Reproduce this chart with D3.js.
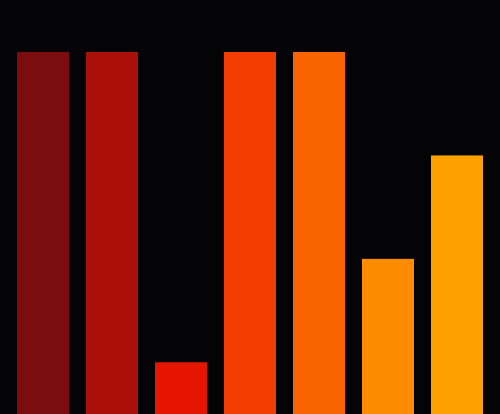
<!DOCTYPE html>
<html><head><meta charset="utf-8">
<script src="https://cdn.jsdelivr.net/npm/d3@7"></script>
<style>html,body{margin:0;padding:0;background:#040406;}svg{display:block;}</style>
</head><body>
<script>
const categories = ["A","B","C","D","E","F","G"];
const values = [7,7,1,7,7,3,5];
const colors = ["#7b0d10","#aa0f08","#e51500","#f23c00","#fa6400","#ff8b00","#ffa200"];

const W = 500, H = 414;
const svg = d3.select("body").append("svg").attr("width",W).attr("height",H)
  .style("background","#040406");
const x = d3.scaleBand().domain(categories).range([0,W]).paddingInner(0.2464).paddingOuter(0.2464);
const y = d3.scaleLinear().domain([0,7]).range([H,52]);
svg.selectAll("rect").data(values).join("rect")
  .attr("x",(d,i)=>x(categories[i]))
  .attr("width",x.bandwidth())
  .attr("y",d=>y(d))
  .attr("height",d=>H-y(d))
  .attr("fill",(d,i)=>colors[i]);
</script>
</body></html>
